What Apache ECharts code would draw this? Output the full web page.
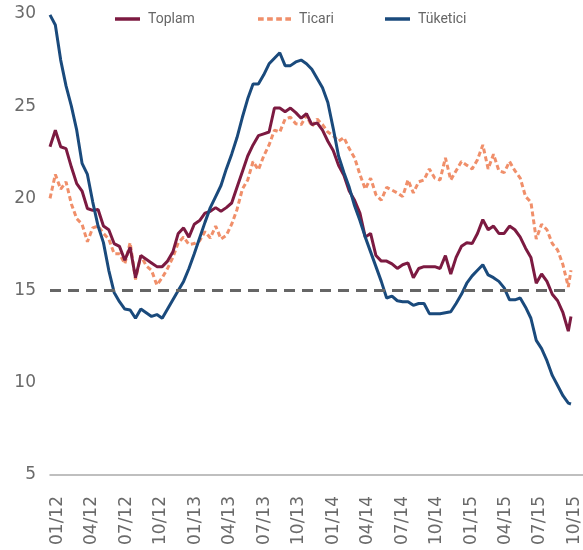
<!DOCTYPE html>
<html>
<head>
<meta charset="utf-8">
<script src="https://cdn.jsdelivr.net/npm/echarts@6/dist/echarts.min.js"></script>
<style>
html,body{margin:0;padding:0;background:#fff;}
#chart{width:583px;height:550px;}
</style>
</head>
<body>
<div id="chart"></div>
<script>
// Week index (from first week of Jan 2012) of each sample
const weeks = [0,2,4,6,8,10,12,14,16,18,20,22,24,26,28,30,32,34,36,38,40,42,44,46,48,50,52,54,56,58,60,62,64,66,68,70,72,74,76,78,80,82,84,86,88,90,92,94,96,98,100,102,104,106,108,110,112,114,116,118,120,122,124,126,128,130,132,134,136,138,140,142,144,146,148,150,152,154,156,158,160,162,164,166,168,170,172,174,176,178,180,182,184,186,188,190,192,194,195];
// Quarter tick labels
const tickLabels = ['01/12','04/12','07/12','10/12','01/13','04/13','07/13','10/13','01/14','04/14','07/14','10/14','01/15','04/15','07/15','10/15'];
const seriesNames = ['Toplam','Ticari','Tüketici'];
const toplam = [22.8,23.7,22.8,22.7,21.7,20.8,20.4,19.45,19.35,19.4,18.5,18.3,17.55,17.4,16.65,17.35,15.7,16.9,16.7,16.5,16.3,16.3,16.6,17.1,18.1,18.4,17.9,18.6,18.8,19.2,19.3,19.5,19.3,19.5,19.75,20.6,21.45,22.3,22.9,23.4,23.5,23.6,24.9,24.9,24.7,24.9,24.65,24.35,24.6,24.0,24.1,23.7,23.1,22.6,21.8,21.25,20.4,19.9,19.2,17.9,18.1,16.9,16.6,16.6,16.45,16.2,16.4,16.5,15.7,16.2,16.3,16.3,16.3,16.2,16.9,15.9,16.8,17.4,17.6,17.55,18.1,18.85,18.3,18.5,18.1,18.1,18.5,18.3,17.9,17.3,16.8,15.4,15.9,15.5,14.8,14.45,13.8,12.8,13.6];
const ticari = [20.0,21.3,20.5,20.9,19.7,18.9,18.6,17.65,18.4,18.5,18.1,17.8,17.0,17.0,16.45,17.6,15.6,16.9,16.35,16.1,15.3,15.7,16.2,16.8,17.6,17.9,17.5,17.55,17.7,18.2,17.85,18.5,17.8,18.0,18.6,19.4,20.5,21.0,22.0,21.55,22.3,22.9,23.7,23.6,24.3,24.4,24.05,24.0,24.5,23.9,24.3,24.0,23.6,23.4,23.1,23.3,22.7,22.2,21.3,20.5,21.1,20.2,19.9,20.6,20.45,20.3,20.1,21.0,20.3,20.9,21.0,21.6,21.1,21.0,22.2,21.0,21.5,22.0,21.8,21.6,22.1,22.9,21.6,22.4,21.5,21.4,22.0,21.5,21.1,20.1,19.8,17.8,18.6,18.3,17.55,17.2,16.4,15.2,16.1];
const tuketici = [29.95,29.4,27.5,26.1,25.0,23.7,21.9,21.3,19.8,18.5,17.6,16.1,14.9,14.4,14.0,13.95,13.5,14.0,13.8,13.6,13.7,13.5,14.0,14.5,15.0,15.5,16.2,17.0,17.85,18.7,19.5,20.1,20.7,21.6,22.4,23.3,24.4,25.4,26.2,26.2,26.7,27.3,27.6,27.9,27.2,27.2,27.4,27.5,27.3,27.0,26.5,26.0,25.2,23.8,22.3,21.4,20.6,19.6,18.8,17.9,17.1,16.3,15.5,14.6,14.7,14.45,14.4,14.4,14.2,14.3,14.3,13.75,13.75,13.75,13.8,13.85,14.3,14.8,15.4,15.8,16.1,16.4,15.85,15.7,15.5,15.15,14.5,14.5,14.6,14.1,13.5,12.3,11.85,11.2,10.4,9.85,9.3,8.9,8.85];
const threshold = 15;
const yTicks = {min:5, max:30, step:5};

const colors = ['#7c1a41','#f08f6a','#1a4a7c'];
const FONT = 'Roboto';
const AXFONT = 'DejaVu Sans';

function pairs(vals){ return vals.map((v,i)=>[weeks[i], v]); }

const chart = echarts.init(document.getElementById('chart'), null, {renderer:'canvas'});
const legendBase = {
  top: 12, padding: 0, itemHeight: 3.5,
  textStyle: {color:'#666', fontSize:14, fontFamily:FONT, padding:[0,0,0,3]}
};
const dashIcon = 'path://M0,0H5V3H0Z M8,0H13V3H8Z M16,0H21V3H16Z M24,0H29V3H24Z';
chart.setOption({
  animation: false,
  backgroundColor: '#fff',
  color: colors,
  legend: [
    Object.assign({}, legendBase, {data:[{name:seriesNames[0], icon:'rect'}], left:115, itemWidth:25}),
    Object.assign({}, legendBase, {data:[{name:seriesNames[1], icon:dashIcon}], left:258, itemWidth:33}),
    Object.assign({}, legendBase, {data:[{name:seriesNames[2], icon:'rect'}], left:385, itemWidth:25})
  ],
  grid: [
    {left:50, right:0, top:14, bottom:75, containLabel:false},
    {left:57.5, right:6.5, top:14, bottom:75, containLabel:false}
  ],
  xAxis: [
    {
      type:'value', min:0, max:199.5, gridIndex:0,
      axisLine:{show:true, lineStyle:{color:'#aaa', width:1.5}},
      axisTick:{show:false}, splitLine:{show:false}, axisLabel:{show:false}
    },
    {
      type:'value', min:0, max:tickLabels.length-1, interval:1, gridIndex:1,
      axisLine:{show:false}, axisTick:{show:false}, splitLine:{show:false},
      axisLabel:{
        rotate:90, margin:21, color:'#6a6a6a', fontSize:17, fontFamily:AXFONT,
        formatter:function(v){ return tickLabels[v] || ''; }
      }
    }
  ],
  yAxis: [
    {
      type:'value', min:yTicks.min, max:yTicks.max, interval:yTicks.step, gridIndex:0,
      axisLine:{show:false}, axisTick:{show:false}, splitLine:{show:false},
      axisLabel:{color:'#6a6a6a', fontSize:17, fontFamily:AXFONT, margin:14}
    },
    {
      type:'value', min:yTicks.min, max:yTicks.max, gridIndex:1, show:false
    }
  ],
  series: [
    {
      name: seriesNames[0], type:'line', data: pairs(toplam), symbol:'none',
      lineStyle:{width:3, color:colors[0]}, z:3,
      markLine:{
        silent:true, symbol:['none','none'], label:{show:false},
        lineStyle:{color:'#666', width:3, type:[11,7]},
        data:[[{coord:[weeks[0], threshold]},{coord:[weeks[weeks.length-1], threshold]}]]
      }
    },
    {
      name: seriesNames[1], type:'line', data: pairs(ticari), symbol:'none',
      lineStyle:{width:3, color:colors[1], type:[5,3]}, z:2
    },
    {
      name: seriesNames[2], type:'line', data: pairs(tuketici), symbol:'none',
      lineStyle:{width:3, color:colors[2]}, z:4
    }
  ]
});
</script>
</body>
</html>
